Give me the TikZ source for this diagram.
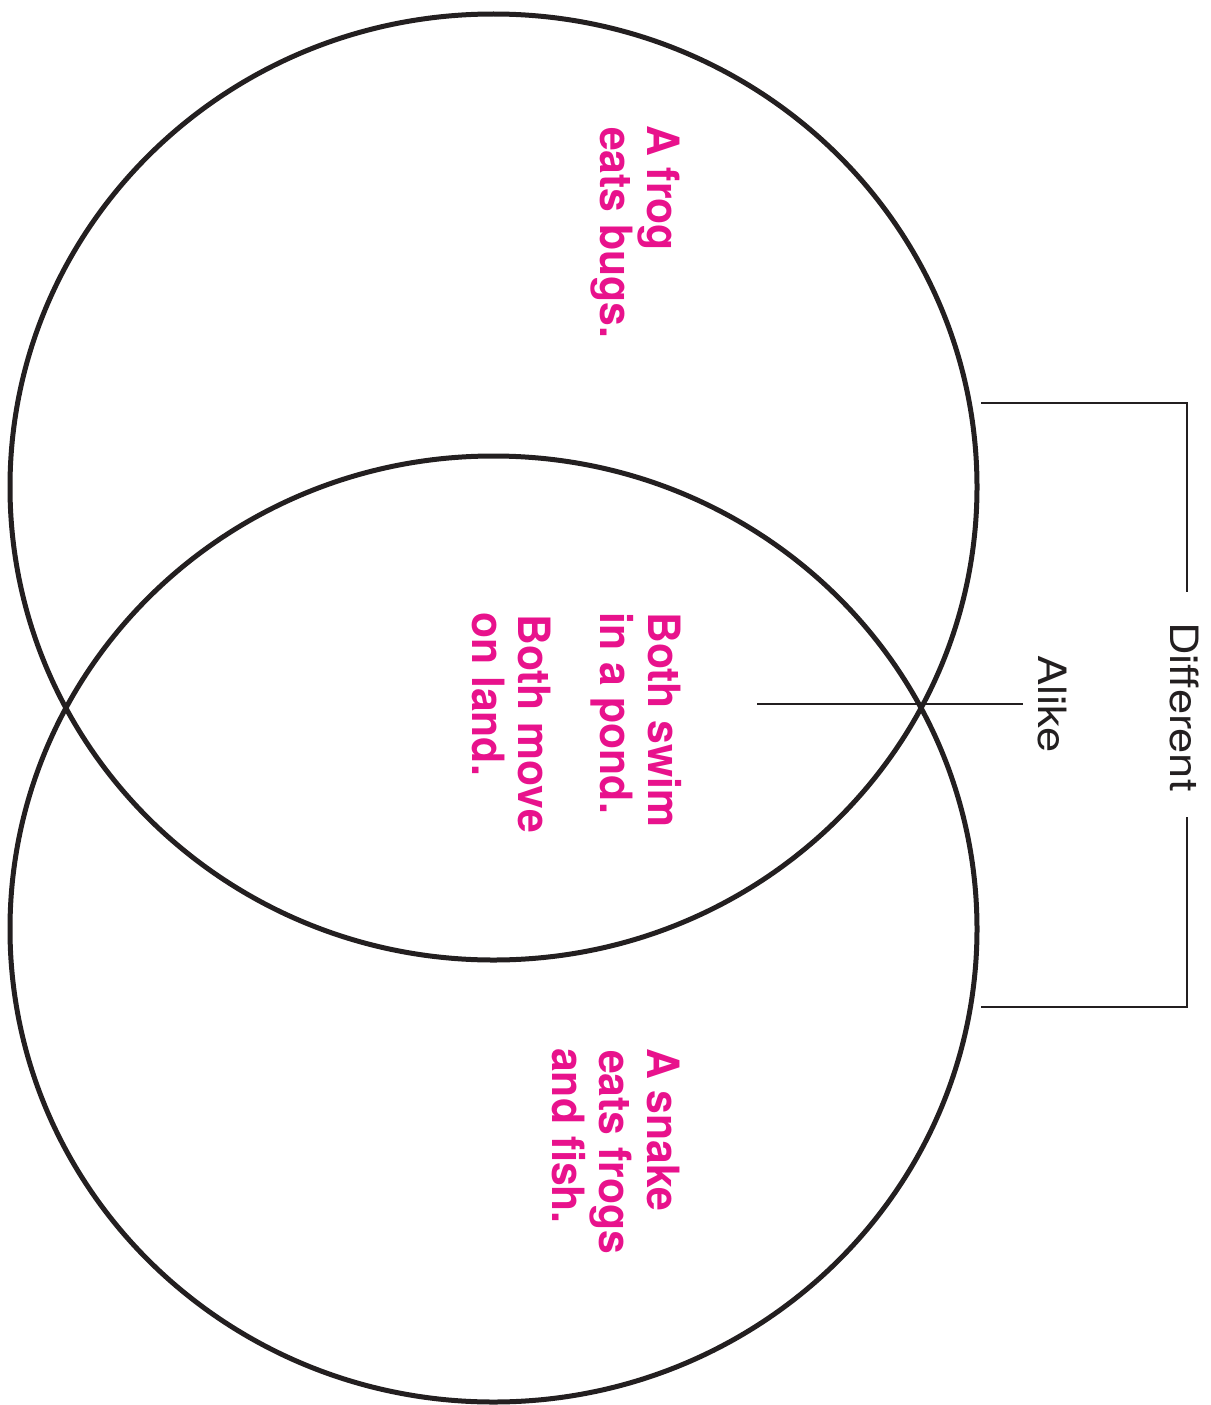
\documentclass[tikz,border=0pt]{standalone}
\usepackage{fontspec}
\setmainfont{TeX Gyre Heros}
\newfontfamily\magfont[FakeStretch=0.96]{TeX Gyre Heros}
\newfontfamily\lblfont[FakeStretch=1.16]{TeX Gyre Heros}
\usetikzlibrary{shapes.geometric}
\definecolor{mag}{HTML}{E8128C}
\definecolor{ink}{HTML}{231F20}
\begin{document}
\begin{tikzpicture}[x=1pt,y=-1pt,
  circ/.style={draw=ink,line width=5pt,ellipse,inner sep=0pt,minimum width=967pt,minimum height=946pt},
  brk/.style={draw=ink,line width=2pt},
  mtext/.style={rotate=-90,anchor=base west,inner sep=0pt,text=mag,font=\magfont\bfseries\fontsize{44.5}{47}\selectfont},
  ltext/.style={rotate=-90,anchor=base west,inner sep=0pt,text=ink,font=\lblfont\fontsize{39}{42}\selectfont}]
\useasboundingbox (0,0) rectangle (1210,1405);
\node[circ] (topc) at (493.5,487) {};
\node[circ] (botc) at (493.5,929) {};
% frog
\node[mtext] (frog1) at (647,125) {A frog};
\node[mtext] (frog2) at (600,127) {eats bugs.};
% both
\node[mtext] (both1) at (648,612) {Both swim};
\node[mtext] (both2) at (600,612) {in a pond.};
\node[mtext] (both3) at (518,614) {Both move};
\node[mtext] (both4) at (472,612) {on land.};
% snake
\node[mtext] (snake1) at (647,1048) {A snake};
\node[mtext] (snake2) at (599,1050) {eats frogs};
\node[mtext] (snake3) at (552,1048) {and fish.};
% labels
\node[ltext] (diff) at (1170,622) {Different};
\node[ltext] (alike) at (1038,655) {Alike};
% alike line
\coordinate (al1) at (757,704);
\coordinate (al2) at (1023,704);
\draw[brk] (al1) -- (al2);
% bracket
\coordinate (b1) at (981,403);
\coordinate (b2) at (1187,403);
\coordinate (b3) at (1187,592);
\coordinate (b4) at (1187,817);
\coordinate (b5) at (1187,1007);
\coordinate (b6) at (981,1007);
\draw[brk] (b1) -- (b2) -- (b3);
\draw[brk] (b4) -- (b5) -- (b6);
\end{tikzpicture}
\end{document}
